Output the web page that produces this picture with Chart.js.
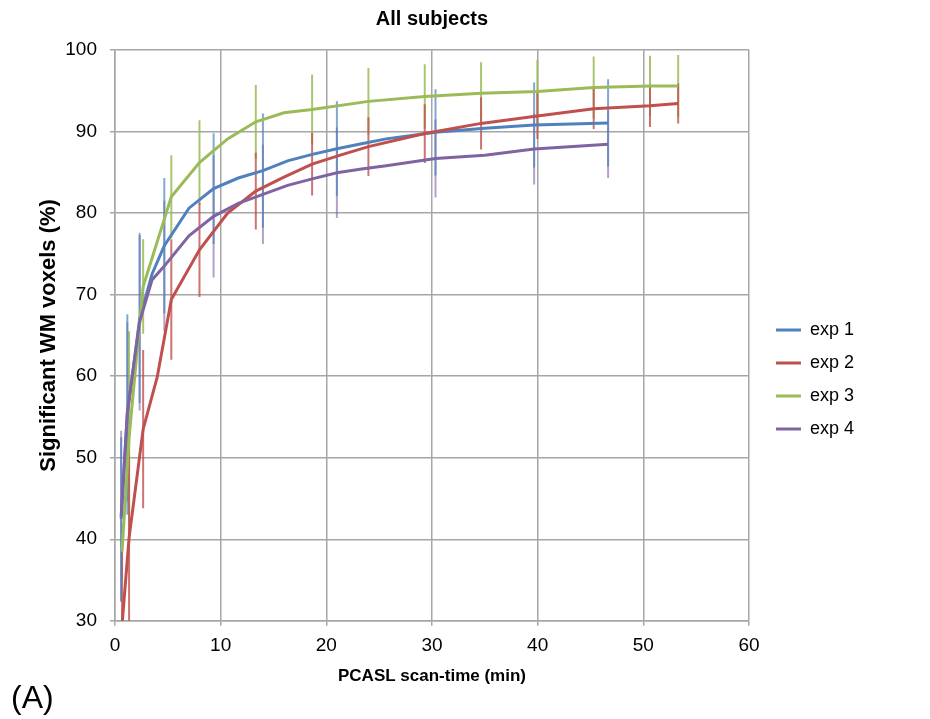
<!DOCTYPE html>
<html><head><meta charset="utf-8">
<script src="https://cdn.jsdelivr.net/npm/chart.js@4.4.1/dist/chart.umd.min.js"></script>
<style>
html,body{margin:0;padding:0;background:#fff;}
#wrap{position:relative;width:930px;height:719px;}
#panel{position:absolute;left:11px;top:678px;font:32px "Liberation Sans",Arial,sans-serif;color:#000;line-height:38px;}
</style></head><body>
<div id="wrap"><canvas id="c" width="930" height="719"></canvas><div id="panel">(A)</div></div>
<script>
const chartTitle = 'All subjects';
const xTitle = 'PCASL scan-time (min)';
const yTitle = 'Significant WM voxels (%)';
const seriesNames = ['exp 1', 'exp 2', 'exp 3', 'exp 4'];

const exp1X = [0.583, 1.167, 2.333, 3.5, 4.667, 7.0, 9.333, 11.667, 14.0, 16.333, 18.667, 21.0, 23.333, 25.667, 30.333, 35.0, 39.667, 46.667];
const exp1Y = [42.5, 55.3, 67.0, 72.5, 76.0, 80.6, 83.0, 84.3, 85.2, 86.4, 87.2, 87.9, 88.5, 89.1, 89.9, 90.4, 90.8, 91.05];
const exp1Err = [10, 12.3, 10.3, null, 8.3, null, 6.8, null, 7.0, null, null, 5.8, null, null, 5.3, null, 5.2, 5.35];

const exp2X = [0.666, 1.333, 2.665, 3.998, 5.33, 7.995, 10.66, 13.325, 15.99, 18.655, 21.32, 23.985, 29.315, 34.645, 39.975, 45.305, 50.635, 53.3];
const exp2Y = [29.5, 40.2, 53.5, 59.9, 69.4, 75.5, 80.0, 82.7, 84.4, 86.0, 87.1, 88.15, 89.75, 91.0, 91.9, 92.8, 93.15, 93.45];
const exp2Err = [9, 12.7, 9.7, null, 7.4, 5.8, null, 4.7, null, 3.85, null, 3.6, 3.6, 3.2, 2.8, 2.5, 2.6, 2.45];

const exp3X = [0.666, 1.333, 2.665, 3.998, 5.33, 7.995, 10.66, 13.325, 15.99, 18.655, 23.985, 29.315, 34.645, 39.975, 45.305, 50.635, 53.3];
const exp3Y = [38.5, 52.5, 71.0, 76.5, 82.0, 86.2, 89.1, 91.2, 92.3, 92.7, 93.7, 94.3, 94.7, 94.9, 95.4, 95.6, 95.6];
const exp3Err = [3.5, 13, 5.8, null, 5.1, 5.2, null, 4.5, null, 4.3, 4.1, 3.95, 3.8, 3.9, 3.8, 3.7, 3.8];

const exp4X = [0.583, 1.167, 2.333, 3.5, 4.667, 7.0, 9.333, 11.667, 14.0, 16.333, 18.667, 21.0, 23.333, 25.667, 30.333, 35.0, 39.667, 46.667];
const exp4Y = [42.8, 55.6, 66.7, 71.8, 73.5, 77.2, 79.6, 81.2, 82.3, 83.4, 84.2, 84.95, 85.4, 85.8, 86.7, 87.1, 87.85, 88.45];
const exp4Err = [10.5, 11, 10.9, null, 8, null, 7.5, null, 6.1, null, null, 5.55, null, null, 4.8, null, 4.35, 4.15];

const xTicks = [0, 10, 20, 30, 40, 50, 60];
const yTicks = [30, 40, 50, 60, 70, 80, 90, 100];

const lineColors = ['#4F81BD', '#C0504D', '#9BBB59', '#8064A2'];
const barColors = ['rgba(79,129,189,0.7)', 'rgba(192,80,77,0.8)', 'rgba(155,187,89,0.85)', 'rgba(128,100,162,0.6)'];

function pts(xs, ys) { return xs.map((x, i) => ({x: x, y: ys[i]})); }
function bars(xs, ys, es) {
  const out = [];
  xs.forEach((x, i) => {
    if (es[i] == null) return;
    out.push({x: x, y: ys[i] - es[i]}, {x: x, y: ys[i] + es[i]}, {x: x, y: null});
  });
  return out;
}

const allX = [exp1X, exp2X, exp3X, exp4X];
const allY = [exp1Y, exp2Y, exp3Y, exp4Y];
const allE = [exp1Err, exp2Err, exp3Err, exp4Err];
const lineOrder = [3, 2, 1, 0];
const barOrder = [4, 5, 6, 7];

const datasets = [];
for (let s = 0; s < 4; s++) {
  datasets.push({
    label: seriesNames[s], data: pts(allX[s], allY[s]),
    borderColor: lineColors[s], backgroundColor: lineColors[s],
    borderWidth: 3, pointRadius: 0, pointHoverRadius: 0, tension: 0, fill: false,
    order: lineOrder[s], pointStyle: 'line'
  });
}
for (let s = 0; s < 4; s++) {
  datasets.push({
    label: seriesNames[s] + ' error', data: bars(allX[s], allY[s], allE[s]),
    borderColor: barColors[s], backgroundColor: barColors[s],
    borderWidth: 2, pointRadius: 0, pointHoverRadius: 0, tension: 0, fill: false,
    spanGaps: false, order: barOrder[s]
  });
}

const FF = '"Liberation Sans", Arial, sans-serif';
const gridColor = '#a6a6a6';

new Chart(document.getElementById('c'), {
  type: 'line',
  data: {datasets: datasets},
  options: {
    responsive: false, animation: false, devicePixelRatio: 1,
    layout: {padding: {left: 0, right: 66, top: 0, bottom: 28}},
    plugins: {
      title: {display: true, text: chartTitle, fullSize: false, color: '#000',
        font: {family: FF, size: 20, weight: 'bold'}, padding: {top: 7, bottom: 19}},
      legend: {display: true, position: 'right', align: 'center',
        title: {display: true, text: ' ', font: {family: FF, size: 10}, padding: {top: 28, bottom: 28}},
        labels: {usePointStyle: true, pointStyleWidth: 25, color: '#000',
          font: {family: FF, size: 18}, padding: 15,
          filter: (item) => item.datasetIndex < 4,
          sort: (a, b) => a.datasetIndex - b.datasetIndex}},
      tooltip: {enabled: false}
    },
    scales: {
      x: {type: 'linear', min: 0, max: 60,
        afterBuildTicks: (sc) => { sc.ticks = xTicks.map(v => ({value: v})); },
        grid: {color: gridColor, lineWidth: 1.5, tickLength: 5, tickColor: gridColor},
        border: {color: gridColor, width: 1.5},
        ticks: {color: '#000', font: {family: FF, size: 19}, padding: 9, maxRotation: 0},
        title: {display: true, text: xTitle, color: '#000', font: {family: FF, size: 17, weight: 'bold'}, padding: {top: 0, bottom: 4}}
      },
      y: {type: 'linear', min: 30, max: 100,
        afterBuildTicks: (sc) => { sc.ticks = yTicks.map(v => ({value: v})); },
        afterFit: (sc) => { sc.width = 115; },
        grid: {color: gridColor, lineWidth: 1.5, tickLength: 5, tickColor: gridColor},
        border: {color: gridColor, width: 1.5},
        ticks: {color: '#000', font: {family: FF, size: 19}, padding: 13},
        title: {display: true, text: yTitle, color: '#000', font: {family: FF, size: 22, weight: 'bold'}, padding: {top: 36, bottom: 4}}
      },
      spacer: {type: 'linear', position: 'right', display: true,
        grid: {display: false, drawTicks: false}, border: {display: false},
        ticks: {display: false}, afterFit: (sc) => { sc.width = 12; }}
    }
  }
});
</script>
</body></html>
